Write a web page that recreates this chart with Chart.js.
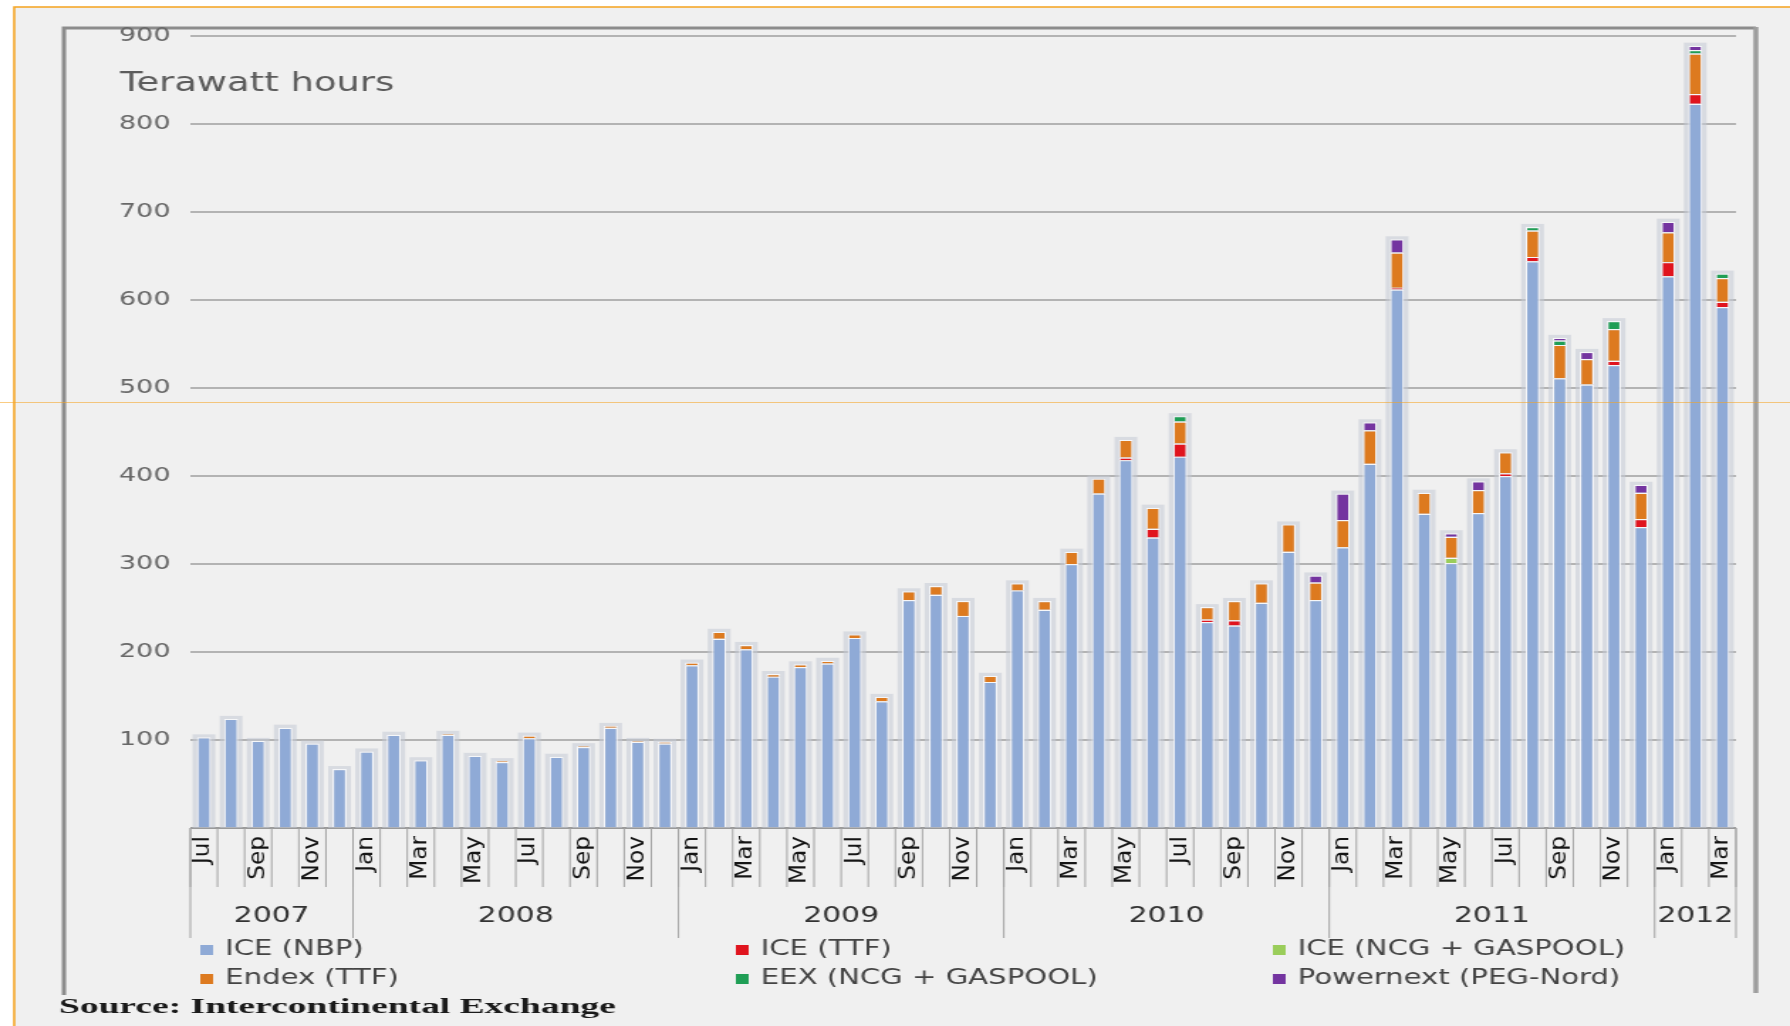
<!DOCTYPE html>
<html>
<head>
<meta charset="utf-8">
<script src="https://cdn.jsdelivr.net/npm/chart.js@4.4.1/dist/chart.umd.min.js"></script>
<style>
  html, body { margin: 0; padding: 0; background: #fff; overflow: hidden; }
  /* the chart is laid out narrow and widened, which gives the broad lettering */
  #wrap { width: 1260px; height: 1026px; transform: scaleX(1.4206); transform-origin: 0 0; }
</style>
</head>
<body>
<div id="wrap"><canvas id="volumeChart" width="1260" height="1026"></canvas></div>
<script>
const months = [
  'Jul', 'Aug', 'Sep', 'Oct', 'Nov', 'Dec',
  'Jan', 'Feb', 'Mar', 'Apr', 'May', 'Jun', 'Jul', 'Aug', 'Sep', 'Oct', 'Nov', 'Dec',
  'Jan', 'Feb', 'Mar', 'Apr', 'May', 'Jun', 'Jul', 'Aug', 'Sep', 'Oct', 'Nov', 'Dec',
  'Jan', 'Feb', 'Mar', 'Apr', 'May', 'Jun', 'Jul', 'Aug', 'Sep', 'Oct', 'Nov', 'Dec',
  'Jan', 'Feb', 'Mar', 'Apr', 'May', 'Jun', 'Jul', 'Aug', 'Sep', 'Oct', 'Nov', 'Dec',
  'Jan', 'Feb', 'Mar'
];
const years = ['2007', '2008', '2009', '2010', '2011', '2012'];
const monthsPerYear = [6, 12, 12, 12, 12, 3];
const yTicks = [0, 100, 200, 300, 400, 500, 600, 700, 800, 900];

// TWh traded per month
const iceNbp = [
  103, 124, 99, 114, 96, 67,
  87, 106, 77, 106, 82, 75, 102, 81, 92, 114, 98, 96,
  185, 215, 203, 172, 183, 187, 216, 144, 259, 265, 241, 166,
  270, 248, 300, 380, 418, 330, 422, 234, 230, 256, 314, 259,
  319, 414, 612, 357, 301, 358, 400, 644, 511, 504, 526, 342,
  627, 823, 592
];
const iceTtf = [
  0, 0, 0, 0, 0, 0,
  0, 0, 0, 0, 0, 0, 0, 0, 0, 0, 0, 0,
  0, 0, 0, 0, 0, 0, 0, 0, 0, 0, 0, 0,
  0, 0, 0, 0, 3, 10, 15, 3, 6, 0, 0, 0,
  0, 0, 2, 0, 0, 0, 3, 5, 0, 0, 5, 9,
  16, 11, 6
];
const iceNcg = [
  0, 0, 0, 0, 0, 0,
  0, 0, 0, 0, 0, 0, 0, 0, 0, 0, 0, 0,
  0, 0, 0, 0, 0, 0, 0, 0, 0, 0, 0, 0,
  0, 0, 0, 0, 0, 0, 0, 0, 0, 0, 0, 0,
  0, 0, 0, 0, 6, 0, 0, 0, 0, 0, 0, 0,
  0, 0, 0
];
const endexTtf = [
  0, 0, 0, 0, 0, 0,
  0, 0, 0, 1, 0, 1, 3, 0, 1, 2, 1, 2,
  3, 8, 5, 3, 3, 3, 4, 5, 10, 10, 17, 7,
  8, 10, 14, 17, 20, 24, 25, 14, 22, 22, 31, 20,
  31, 38, 40, 24, 24, 26, 24, 30, 38, 29, 36, 30,
  34, 46, 27
];
const eexNcg = [
  0, 0, 0, 0, 0, 0,
  0, 0, 0, 0, 0, 0, 0, 0, 0, 0, 0, 0,
  0, 0, 0, 0, 0, 0, 0, 0, 0, 0, 0, 0,
  0, 0, 0, 0, 0, 0, 6, 0, 0, 0, 0, 0,
  0, 0, 0, 0, 0, 0, 0, 4, 5, 0, 9, 0,
  0, 4, 5
];
const powernext = [
  0, 0, 0, 0, 0, 0,
  0, 0, 0, 0, 0, 0, 0, 0, 0, 0, 0, 0,
  0, 0, 0, 0, 0, 0, 0, 0, 0, 0, 0, 0,
  0, 0, 0, 0, 0, 0, 0, 0, 0, 0, 0, 8,
  30, 9, 15, 0, 4, 10, 0, 0, 3, 8, 0, 9,
  12, 5, 0
];

const seriesNames = ['ICE (NBP)', 'ICE (TTF)', 'ICE (NCG + GASPOOL)', 'Endex (TTF)', 'EEX (NCG + GASPOOL)', 'Powernext (PEG-Nord)'];
const seriesData = [iceNbp, iceTtf, iceNcg, endexTtf, eexNcg, powernext];
const seriesColors = ['#8faad6', '#e0141e', '#9acd5a', '#dd7a1f', '#1f9e55', '#7434a0'];

const SANS = '"DejaVu Sans", sans-serif';

// page background, orange border and grey frame
const backdrop = {
  id: 'backdrop',
  beforeDraw(chart) {
    const c = chart.ctx, w = chart.width, h = chart.height;
    c.save();
    c.fillStyle = '#ffffff';
    c.fillRect(0, 0, w, h);
    c.fillStyle = '#f0f0f0';
    c.fillRect(10, 7, w - 10, h - 7);
    c.strokeStyle = '#f5a31e';
    c.lineWidth = 1.5;
    c.beginPath(); c.moveTo(10, h); c.lineTo(10, 7); c.lineTo(w, 7); c.stroke();
    c.strokeStyle = '#8c8c8c';
    c.lineWidth = 3;
    c.beginPath(); c.moveTo(45, 995); c.lineTo(45, 28); c.lineTo(1236, 28); c.stroke();
    c.strokeStyle = '#9e9e9e';
    c.lineWidth = 3.5;
    c.beginPath(); c.moveTo(1236, 27); c.lineTo(1236, 993); c.stroke();
    c.restore();
  }
};

// pale column behind every stacked bar
const halo = {
  id: 'halo',
  beforeDatasetsDraw(chart) {
    const c = chart.ctx, x = chart.scales.x, y = chart.scales.y;
    c.save();
    c.fillStyle = 'rgba(196,202,214,0.55)';
    months.forEach((m, i) => {
      const total = seriesData.reduce((s, arr) => s + arr[i], 0);
      const px = x.getPixelForValue(i);
      const top = y.getPixelForValue(total) - 3;
      c.fillRect(px - 8, top, 16, y.getPixelForValue(0) - top);
    });
    c.restore();
  }
};

// month / year axis, legend, unit and source
const decorations = {
  id: 'decorations',
  afterDraw(chart) {
    const c = chart.ctx, x = chart.scales.x, area = chart.chartArea;
    const step = (area.right - area.left) / months.length;
    c.save();

    c.strokeStyle = 'rgba(245,163,30,0.55)';
    c.lineWidth = 1;
    c.beginPath(); c.moveTo(0, 402.5); c.lineTo(chart.width, 402.5); c.stroke();

    c.strokeStyle = '#a3a3a3';
    c.lineWidth = 1;
    for (let i = 0; i <= months.length; i++) {
      const bx = x.getPixelForValue(i) - step / 2;
      c.beginPath(); c.moveTo(bx, area.bottom); c.lineTo(bx, area.bottom + 59); c.stroke();
    }

    c.fillStyle = '#151515';
    c.font = '15px ' + SANS;
    c.textAlign = 'right';
    c.textBaseline = 'middle';
    months.forEach((m, i) => {
      if (i % 2) return;
      c.save();
      c.translate(x.getPixelForValue(i), area.bottom + 8);
      c.rotate(-Math.PI / 2);
      c.scale(1.55, 1);
      c.fillText(m, 0, 0);
      c.restore();
    });

    let start = 0;
    c.font = '21px ' + SANS;
    c.textAlign = 'center';
    c.fillStyle = '#333333';
    years.forEach((yr, k) => {
      const end = start + monthsPerYear[k];
      const x0 = x.getPixelForValue(start) - step / 2;
      const x1 = x.getPixelForValue(end - 1) + step / 2;
      c.beginPath(); c.moveTo(x0, area.bottom); c.lineTo(x0, area.bottom + 110); c.stroke();
      if (k === years.length - 1) {
        c.beginPath(); c.moveTo(x1, area.bottom); c.lineTo(x1, area.bottom + 110); c.stroke();
      }
      c.fillText(yr, (x0 + x1) / 2, area.bottom + 89);
      start = end;
    });

    // legend, three columns by two rows
    const colX = [141, 518, 896];
    const rowY = [950, 979];
    c.font = '20.5px ' + SANS;
    c.textAlign = 'left';
    chart.data.datasets.forEach((ds, k) => {
      const lx = colX[k % 3], ly = rowY[Math.floor(k / 3)];
      c.fillStyle = ds.backgroundColor;
      c.fillRect(lx, ly - 5, 9, 10);
      c.fillStyle = '#444444';
      c.fillText(ds.label, lx + 17.5, ly);
    });

    c.fillStyle = '#5c5c5c';
    c.font = '26px ' + SANS;
    c.textBaseline = 'middle';
    c.fillText('Terawatt hours', 84.5, 84);

    c.fillStyle = '#1a1a1a';
    c.font = 'bold 20px "Liberation Serif", serif';
    c.textBaseline = 'alphabetic';
    const src = 'Source: Intercontinental Exchange';
    const sx = 392 / c.measureText(src).width;
    c.translate(41.5, 1013);
    c.scale(sx, 1);
    c.fillText(src, 0, 0);

    c.restore();
  }
};

const ctx = document.getElementById('volumeChart').getContext('2d');
const volumeChart = new Chart(ctx, {
    type: 'bar',
    data: {
        labels: months,
        datasets: seriesNames.map((name, k) => ({
            label: name,
            data: seriesData[k],
            backgroundColor: seriesColors[k],
            borderColor: 'rgba(250,250,252,0.9)',
            borderWidth: 1.2,
            barPercentage: 0.52,
            categoryPercentage: 1
        }))
    },
    options: {
        responsive: false,
        animation: false,
        devicePixelRatio: 1,
        layout: {
            padding: { top: 36, right: 38, bottom: 198, left: 0 }
        },
        plugins: {
            legend: { display: false },
            tooltip: { enabled: false }
        },
        scales: {
            x: {
                stacked: true,
                display: false
            },
            y: {
                stacked: true,
                min: 0,
                max: 900,
                afterFit: scale => { scale.width = 134; },
                afterBuildTicks: scale => { scale.ticks = yTicks.map(v => ({ value: v })); },
                border: { display: false },
                grid: {
                    drawTicks: false,
                    lineWidth: 2,
                    color: c => c.tick && c.tick.value === 0 ? '#9a9a9a' : '#b3b3b3'
                },
                ticks: {
                    padding: 14,
                    color: '#686868',
                    font: { family: 'DejaVu Sans', size: 19 },
                    callback: v => v === 0 ? '' : v
                }
            }
        }
    },
    plugins: [backdrop, halo, decorations]
});
</script>
</body>
</html>
